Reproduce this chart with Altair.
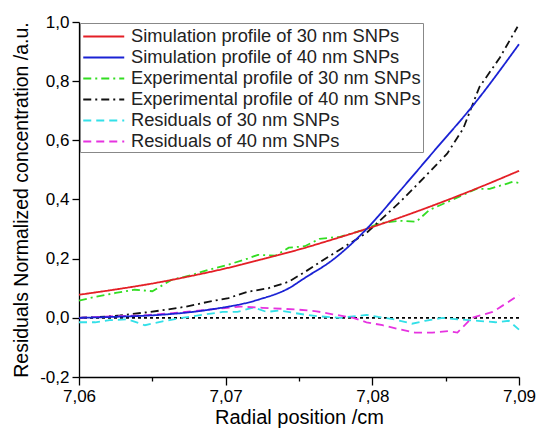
import altair as alt
import pandas as pd

names = [
    "Simulation profile of 30 nm SNPs",
    "Simulation profile of 40 nm SNPs",
    "Experimental profile of 30 nm SNPs",
    "Experimental profile of 40 nm SNPs",
    "Residuals of 30 nm SNPs",
    "Residuals of 40 nm SNPs",
]
colors = ["#e41f26", "#1a22d4", "#33dd22", "#111111", "#33e0e8", "#e633e0"]
dashes = [[1, 0], [1, 0], [8, 4, 2, 4], [8, 4, 2, 4], [8, 5], [8, 5]]

sim30_x = [7.0600, 7.0625, 7.0650, 7.0675, 7.0700, 7.0725, 7.0750, 7.0775, 7.0800, 7.0825, 7.0850, 7.0875, 7.0900]
sim30_y = [0.078, 0.096, 0.116, 0.140, 0.167, 0.198, 0.231, 0.268, 0.307, 0.350, 0.396, 0.445, 0.497]

sim40_x = [7.0600, 7.0628, 7.0655, 7.0688, 7.0722, 7.0743, 7.0754, 7.0773, 7.0796, 7.0819, 7.0844, 7.0869, 7.0900]
sim40_y = [0.000, 0.004, 0.010, 0.027, 0.061, 0.100, 0.135, 0.196, 0.300, 0.430, 0.575, 0.720, 0.925]

exp30_x = [7.0600, 7.0611, 7.0625, 7.0638, 7.0650, 7.0663, 7.0677, 7.0688, 7.0702, 7.0715, 7.0722, 7.0734,
           7.0743, 7.0754, 7.0764, 7.0778, 7.0794, 7.0805, 7.0819, 7.0830, 7.0839, 7.0855, 7.0871, 7.0880,
           7.0896, 7.0900]
exp30_y = [0.058, 0.071, 0.084, 0.095, 0.090, 0.128, 0.145, 0.162, 0.180, 0.200, 0.213, 0.210,
           0.237, 0.242, 0.267, 0.274, 0.297, 0.320, 0.328, 0.325, 0.365, 0.400, 0.436, 0.436,
           0.460, 0.456]

exp40_x = [7.0600, 7.0614, 7.0628, 7.0645, 7.0659, 7.0672, 7.0688, 7.0702, 7.0715, 7.0729, 7.0743, 7.0754,
           7.0769, 7.0796, 7.0819, 7.0837, 7.0851, 7.0862, 7.0873, 7.0887, 7.0899]
exp40_y = [0.000, 0.003, 0.008, 0.018, 0.027, 0.037, 0.054, 0.067, 0.088, 0.100, 0.122, 0.155,
           0.203, 0.287, 0.392, 0.483, 0.555, 0.640, 0.780, 0.880, 0.984]

res30_x = [7.0600, 7.0611, 7.0621, 7.0633, 7.0645, 7.0657, 7.0670, 7.0684, 7.0698, 7.0708, 7.0719, 7.0728,
           7.0737, 7.0746, 7.0755, 7.0764, 7.0778, 7.0796, 7.0804, 7.0815, 7.0827, 7.0836, 7.0848, 7.0858,
           7.0872, 7.0884, 7.0893, 7.0900]
res30_y = [-0.015, -0.015, -0.008, -0.005, -0.025, -0.012, 0.000, 0.010, 0.020, 0.020, 0.035, 0.020,
           0.025, 0.017, 0.010, 0.005, 0.000, 0.010, 0.003, -0.005, -0.020, -0.010, 0.000, -0.005,
           -0.010, -0.015, -0.010, -0.040]

res40_x = [7.0600, 7.0621, 7.0643, 7.0662, 7.0683, 7.0700, 7.0710, 7.0725, 7.0749, 7.0762, 7.0773, 7.0787,
           7.0796, 7.0807, 7.0818, 7.0829, 7.0841, 7.0852, 7.0858, 7.0868, 7.0882, 7.0890, 7.0900]
res40_y = [0.000, 0.005, 0.008, 0.015, 0.025, 0.033, 0.038, 0.034, 0.028, 0.022, 0.012, 0.000,
           -0.015, -0.025, -0.038, -0.050, -0.050, -0.045, -0.050, 0.000, 0.020, 0.045, 0.077]

series = [
    (names[0], sim30_x, sim30_y),
    (names[1], sim40_x, sim40_y),
    (names[2], exp30_x, exp30_y),
    (names[3], exp40_x, exp40_y),
    (names[4], res30_x, res30_y),
    (names[5], res40_x, res40_y),
]
rows = []
for name, xs, ys in series:
    for xv, yv in zip(xs, ys):
        rows.append({"series": name, "x": xv, "y": yv})
df = pd.DataFrame(rows)

FONT = "Liberation Sans"

x_axis = alt.Axis(
    values=[7.06, 7.065, 7.07, 7.075, 7.08, 7.085, 7.09],
    labelExpr="round(datum.value*200) % 2 == 0 ? replace(format(datum.value, '.2f'), '.', ',') : ''",
    tickSize={"condition": {"test": "round(datum.value*200) % 2 == 0", "value": 8}, "value": 4},
    title="Radial position /cm",
    titleFontSize=20, titleFontWeight="normal", titlePadding=3,
    labelFontSize=17, labelFlush=False, labelOverlap=False, labelPadding=3,
    grid=False, domainColor="black", tickColor="black", labelColor="black", titleColor="black",
    labelFont=FONT, titleFont=FONT, domainWidth=1.3, tickWidth=1.3,
)
y_axis = alt.Axis(
    values=[-0.2, -0.1, 0.0, 0.1, 0.2, 0.3, 0.4, 0.5, 0.6, 0.7, 0.8, 0.9, 1.0],
    labelExpr="round(datum.value*10) % 2 == 0 ? (datum.value < -0.001 ? '-' : '') + replace(format(abs(datum.value), '.1f'), '.', ',') : ''",
    tickSize={"condition": {"test": "round(datum.value*10) % 2 == 0", "value": 7}, "value": 4},
    title="Residuals Normalized concentration /a.u.",
    titleFontSize=19.5, titleFontWeight="normal", titlePadding=8,
    labelFontSize=17, labelFlush=False, labelOverlap=False, labelPadding=3,
    grid=False, domainColor="black", tickColor="black", labelColor="black", titleColor="black",
    labelFont=FONT, titleFont=FONT, domainWidth=1.3, tickWidth=1.3,
)

legend = alt.Legend(
    title=None, orient="top-left", offset=1,
    symbolType="M-1,0H3", symbolSize=420, symbolStrokeWidth=2,
    labelFontSize=18.3, labelFont=FONT, labelColor="#222", labelLimit=400,
    strokeColor="#888888", fillColor="white", padding=2, rowPadding=1,
    labelOffset=26,
)

X = alt.X("x:Q", scale=alt.Scale(domain=[7.06, 7.09], nice=False, zero=False), axis=x_axis)
Y = alt.Y("y:Q", scale=alt.Scale(domain=[-0.2, 1.0], nice=False, zero=False), axis=y_axis)
C = alt.Color("series:N", scale=alt.Scale(domain=names, range=colors), legend=legend)
D = alt.StrokeDash("series:N", scale=alt.Scale(domain=names, range=dashes), legend=legend)

zero = alt.Chart(pd.DataFrame({"y": [0.0]})).mark_rule(
    color="black", strokeDash=[3, 3], strokeWidth=1.6
).encode(y=alt.Y("y:Q"))

sim = alt.Chart(df[df.series.isin(names[:2])]).mark_line(
    strokeWidth=1.8, interpolate="monotone"
).encode(x=X, y=Y, color=C, strokeDash=D)

other = alt.Chart(df[~df.series.isin(names[:2])]).mark_line(
    strokeWidth=1.8
).encode(x=X, y=Y, color=C, strokeDash=D)

chart = alt.layer(zero, other, sim).properties(
    width=440, height=355,
    autosize=alt.AutoSizeParams(type="none"),
    padding={"left": 79, "top": 22, "right": 20, "bottom": 51},
    background="white",
).configure_view(stroke=None)

chart.save("out.html", embed_options={"renderer": "svg", "actions": False})
